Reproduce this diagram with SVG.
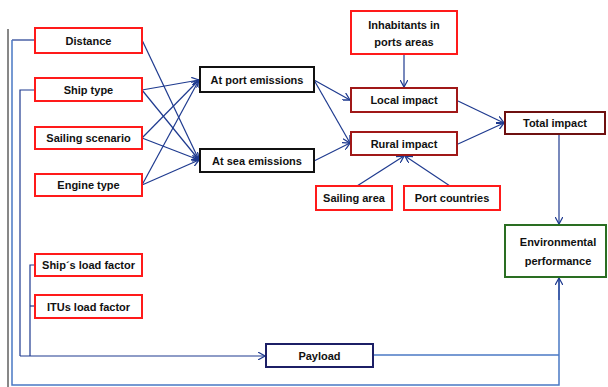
<svg xmlns="http://www.w3.org/2000/svg" width="608" height="387" viewBox="0 0 608 387">
<style>
text{font-family:"Liberation Sans",Arial,sans-serif;font-size:11px;font-weight:bold;fill:#111;text-anchor:middle;dominant-baseline:central}
.red{fill:#fff;stroke:#ff1a1a;stroke-width:2}
.dred{fill:#fff;stroke:#a01818;stroke-width:2}
.mar{fill:#fff;stroke:#6e1010;stroke-width:2}
.blk{fill:#fff;stroke:#111;stroke-width:2}
.grn{fill:#fff;stroke:#2a6e22;stroke-width:2}
.nav{fill:#fff;stroke:#1c1f66;stroke-width:2}
.c{fill:none;stroke:#1e3a8f;stroke-width:1.2}
.cl{fill:none;stroke:#4a78c4;stroke-width:1.5}
.a{marker-end:url(#ah)}
</style>
<defs>
<marker id="ah" viewBox="0 0 10 10" refX="9" refY="5" markerWidth="8" markerHeight="8" markerUnits="userSpaceOnUse" orient="auto">
<path d="M0,0 L9,5 L0,10" fill="none" stroke="#1e3a8f" stroke-width="1.6"/>
</marker>
</defs>
<rect width="608" height="387" fill="#fff"/>
<g id="connectors">
<line x1="8" y1="29" x2="8" y2="387" stroke="#111" stroke-width="1"/>
<polyline class="c" points="35,40 12,40"/>
<polyline class="cl" points="12,40 12,385 559,385 559,278" />
<line class="c a" x1="559" y1="300" x2="559" y2="278"/>
<polyline class="c" points="35,90 20,90 20,356"/>
<line class="c a" x1="20" y1="356" x2="265" y2="356"/>
<polyline class="c" points="35,265 30,265 30,356"/>
<line class="c" x1="30" y1="306" x2="35" y2="306"/>
<line class="cl" x1="373" y1="355" x2="559" y2="355"/>
<line class="c a" x1="142" y1="40" x2="199" y2="160"/>
<line class="c a" x1="142" y1="90" x2="199" y2="80"/>
<line class="c a" x1="142" y1="90" x2="199" y2="160"/>
<line class="c a" x1="142" y1="138" x2="199" y2="80"/>
<line class="c a" x1="142" y1="138" x2="199" y2="160"/>
<line class="c a" x1="142" y1="185" x2="199" y2="80"/>
<line class="c a" x1="142" y1="185" x2="199" y2="160"/>
<line class="c a" x1="314" y1="80" x2="350" y2="100"/>
<line class="c a" x1="314" y1="80" x2="350" y2="143"/>
<line class="c a" x1="314" y1="161" x2="350" y2="143"/>
<line class="c a" x1="404" y1="54" x2="404" y2="87"/>
<line class="c a" x1="458" y1="101" x2="504" y2="123"/>
<line class="c a" x1="458" y1="144" x2="504" y2="123"/>
<line class="c a" x1="357" y1="186" x2="404" y2="156"/>
<line class="c a" x1="450" y1="186" x2="405" y2="156"/>
<line class="c a" x1="559" y1="135" x2="559" y2="224"/>
</g>
<g id="distance"><rect class="red" x="35" y="28" width="107" height="25"/><text x="88.5" y="40.5">Distance</text></g>
<g id="ship-type"><rect class="red" x="35" y="78" width="107" height="23"/><text x="88.5" y="90">Ship type</text></g>
<g id="sailing-scenario"><rect class="red" x="35" y="127" width="107" height="22"/><text x="88.5" y="138">Sailing scenario</text></g>
<g id="engine-type"><rect class="red" x="35" y="174" width="107" height="22"/><text x="88.5" y="185">Engine type</text></g>
<g id="ships-load-factor"><rect class="red" x="35" y="254" width="107" height="22"/><text x="88.5" y="265">Ship´s load factor</text></g>
<g id="itus-load-factor"><rect class="red" x="35" y="295" width="107" height="23"/><text x="88.5" y="306.5">ITUs load factor</text></g>
<g id="at-port"><rect class="blk" x="200" y="67" width="114" height="25"/><text x="257" y="79.5">At port emissions</text></g>
<g id="at-sea"><rect class="blk" x="200" y="149" width="114" height="23"/><text x="257" y="160.5">At sea emissions</text></g>
<g id="inhabitants"><rect class="red" x="351" y="11" width="106" height="43"/><text x="404" y="24.5">Inhabitants in</text><text x="404" y="42">ports areas</text></g>
<g id="local-impact"><rect class="dred" x="351" y="88" width="106" height="24"/><text x="404" y="100">Local impact</text></g>
<g id="rural-impact"><rect class="dred" x="351" y="132" width="106" height="23"/><text x="404" y="143.5">Rural impact</text></g>
<g id="sailing-area"><rect class="red" x="316" y="186" width="76" height="24"/><text x="354" y="198">Sailing area</text></g>
<g id="port-countries"><rect class="red" x="404" y="186" width="96" height="24"/><text x="452" y="198">Port countries</text></g>
<g id="total-impact"><rect class="mar" x="505" y="112" width="100" height="22"/><text x="555" y="123">Total impact</text></g>
<g id="environmental-performance"><rect class="grn" x="505" y="225" width="101" height="52"/><text x="558" y="242">Environmental</text><text x="558" y="261">performance</text></g>
<g id="payload"><rect class="nav" x="266" y="344" width="107" height="23"/><text x="319.5" y="355.5">Payload</text></g>
</svg>
